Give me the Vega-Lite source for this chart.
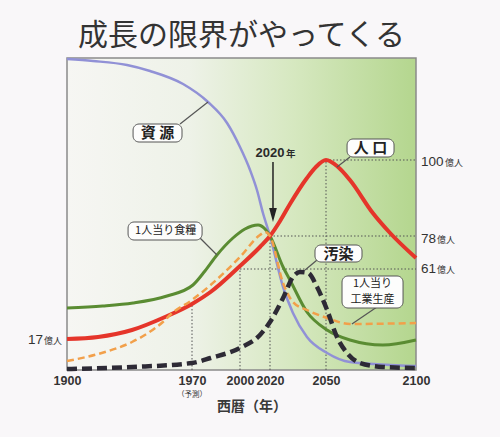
{
  "$schema": "https://vega.github.io/schema/vega-lite/v6.json",
  "width": 349,
  "height": 312,
  "autosize": {"type": "none"},
  "padding": {"left": 67, "top": 58, "right": 84, "bottom": 67},
  "background": "#f9f7f9",
  "config": {
    "view": {"stroke": null},
    "text": {"font": "Noto Sans CJK JP"}
  },
  "data": {
    "values": [
      {"s": "res", "year": 1900, "v": 311},
      {"s": "res", "year": 1914.6, "v": 309},
      {"s": "res", "year": 1933.6, "v": 305},
      {"s": "res", "year": 1946.5, "v": 299},
      {"s": "res", "year": 1965, "v": 286},
      {"s": "res", "year": 1980, "v": 268},
      {"s": "res", "year": 1991.9, "v": 247},
      {"s": "res", "year": 2000, "v": 223},
      {"s": "res", "year": 2006.7, "v": 200},
      {"s": "res", "year": 2011.3, "v": 180},
      {"s": "res", "year": 2015.3, "v": 157},
      {"s": "res", "year": 2020, "v": 134},
      {"s": "res", "year": 2027, "v": 83},
      {"s": "res", "year": 2032.3, "v": 57},
      {"s": "res", "year": 2039.8, "v": 33},
      {"s": "res", "year": 2050.6, "v": 17},
      {"s": "res", "year": 2063.3, "v": 8},
      {"s": "res", "year": 2100, "v": 4},

      {"s": "food", "year": 1900, "v": 62},
      {"s": "food", "year": 1920, "v": 64},
      {"s": "food", "year": 1937, "v": 67},
      {"s": "food", "year": 1956, "v": 74},
      {"s": "food", "year": 1970.6, "v": 85},
      {"s": "food", "year": 1978.1, "v": 99},
      {"s": "food", "year": 1985.6, "v": 115},
      {"s": "food", "year": 1995.6, "v": 132},
      {"s": "food", "year": 2003.3, "v": 141},
      {"s": "food", "year": 2012, "v": 145},
      {"s": "food", "year": 2016.7, "v": 141},
      {"s": "food", "year": 2020, "v": 134},
      {"s": "food", "year": 2027, "v": 103},
      {"s": "food", "year": 2030.7, "v": 90},
      {"s": "food", "year": 2039.8, "v": 58},
      {"s": "food", "year": 2050.6, "v": 40},
      {"s": "food", "year": 2063.3, "v": 30},
      {"s": "food", "year": 2081.6, "v": 25},
      {"s": "food", "year": 2100, "v": 30},

      {"s": "pop", "year": 1900, "v": 31},
      {"s": "pop", "year": 1917.4, "v": 33},
      {"s": "pop", "year": 1936.4, "v": 40},
      {"s": "pop", "year": 1954.9, "v": 53},
      {"s": "pop", "year": 1970, "v": 66},
      {"s": "pop", "year": 1981.6, "v": 78},
      {"s": "pop", "year": 2000, "v": 104},
      {"s": "pop", "year": 2013.3, "v": 123},
      {"s": "pop", "year": 2020, "v": 134},
      {"s": "pop", "year": 2025.4, "v": 149},
      {"s": "pop", "year": 2030.7, "v": 166},
      {"s": "pop", "year": 2039.8, "v": 192},
      {"s": "pop", "year": 2044.6, "v": 203},
      {"s": "pop", "year": 2050, "v": 210},
      {"s": "pop", "year": 2056.7, "v": 203},
      {"s": "pop", "year": 2063.3, "v": 190},
      {"s": "pop", "year": 2076, "v": 157},
      {"s": "pop", "year": 2085.6, "v": 137},
      {"s": "pop", "year": 2100, "v": 112},

      {"s": "ind", "year": 1900, "v": 9},
      {"s": "ind", "year": 1917.4, "v": 16},
      {"s": "ind", "year": 1936.4, "v": 28},
      {"s": "ind", "year": 1945.4, "v": 37},
      {"s": "ind", "year": 1954.9, "v": 50},
      {"s": "ind", "year": 1957.7, "v": 55},
      {"s": "ind", "year": 1970, "v": 70},
      {"s": "ind", "year": 1981.6, "v": 85},
      {"s": "ind", "year": 2000, "v": 113},
      {"s": "ind", "year": 2013.3, "v": 135},
      {"s": "ind", "year": 2016.7, "v": 138},
      {"s": "ind", "year": 2020, "v": 134},
      {"s": "ind", "year": 2027, "v": 87},
      {"s": "ind", "year": 2032.3, "v": 68},
      {"s": "ind", "year": 2039.8, "v": 60},
      {"s": "ind", "year": 2050.6, "v": 52},
      {"s": "ind", "year": 2063.3, "v": 46},
      {"s": "ind", "year": 2100, "v": 47},

      {"s": "pol", "year": 1900, "v": 1},
      {"s": "pol", "year": 1936.4, "v": 3},
      {"s": "pol", "year": 1970, "v": 7},
      {"s": "pol", "year": 1981.6, "v": 12},
      {"s": "pol", "year": 2000, "v": 22},
      {"s": "pol", "year": 2013.3, "v": 35},
      {"s": "pol", "year": 2020, "v": 48},
      {"s": "pol", "year": 2027, "v": 72},
      {"s": "pol", "year": 2032.3, "v": 93},
      {"s": "pol", "year": 2036, "v": 98},
      {"s": "pol", "year": 2040.4, "v": 97},
      {"s": "pol", "year": 2045.2, "v": 83},
      {"s": "pol", "year": 2050.6, "v": 60},
      {"s": "pol", "year": 2056.1, "v": 33},
      {"s": "pol", "year": 2061.7, "v": 17},
      {"s": "pol", "year": 2068.9, "v": 7},
      {"s": "pol", "year": 2081.6, "v": 3},
      {"s": "pol", "year": 2100, "v": 2}
    ]
  },
  "encoding": {
    "x": {
      "field": "year",
      "type": "quantitative",
      "scale": {
        "domain": [1900, 1970, 2000, 2020, 2050, 2100],
        "range": [0, 125, 173, 203, 259, 349],
        "nice": false,
        "zero": false
      },
      "axis": {
        "values": [1900, 1970, 2000, 2020, 2050, 2100],
        "format": "d",
        "title": null,
        "ticks": false,
        "domain": false,
        "grid": false,
        "labelOverlap": false,
        "labelFlush": false,
        "labelFont": "Liberation Sans",
        "labelFontWeight": "bold",
        "labelFontSize": 12.5,
        "labelColor": "#333333",
        "labelPadding": 4
      }
    },
    "y": {
      "field": "v",
      "type": "quantitative",
      "scale": {"domain": [0, 312], "nice": false, "zero": false},
      "axis": null
    }
  },
  "layer": [
    {
      "data": {"values": [{"year": 1900, "year2": 2100, "v": 0, "v2": 312}]},
      "mark": {
        "type": "rect",
        "fill": {
          "gradient": "linear",
          "x1": 0, "y1": 0, "x2": 1, "y2": 0,
          "stops": [
            {"offset": 0, "color": "#f6f6f3"},
            {"offset": 0.35, "color": "#eef2e8"},
            {"offset": 0.65, "color": "#d6e8c0"},
            {"offset": 1, "color": "#b4d68e"}
          ]
        },
        "stroke": "#8a8a8a",
        "strokeWidth": 1.5
      },
      "encoding": {
        "x2": {"field": "year2"},
        "y2": {"field": "v2"}
      }
    },
    {
      "data": {
        "values": [
          {"year": 1970, "year2": 1970, "v": 0, "v2": 66},
          {"year": 2000, "year2": 2000, "v": 0, "v2": 101},
          {"year": 2000, "year2": 2100, "v": 101, "v2": 101},
          {"year": 2020, "year2": 2020, "v": 0, "v2": 134},
          {"year": 2020, "year2": 2100, "v": 134, "v2": 134},
          {"year": 2050, "year2": 2050, "v": 0, "v2": 210},
          {"year": 2050, "year2": 2100, "v": 210, "v2": 210}
        ]
      },
      "mark": {"type": "rule", "color": "#555555", "strokeWidth": 1, "strokeDash": [1.5, 2]},
      "encoding": {
        "x2": {"field": "year2"},
        "y2": {"field": "v2"}
      }
    },
    {
      "transform": [{"filter": "datum.s === 'res'"}],
      "mark": {"type": "line", "interpolate": "monotone", "color": "#9191d6", "strokeWidth": 2.5}
    },
    {
      "transform": [{"filter": "datum.s === 'food'"}],
      "mark": {"type": "line", "interpolate": "monotone", "color": "#5a8c32", "strokeWidth": 3}
    },
    {
      "transform": [{"filter": "datum.s === 'pop'"}],
      "mark": {"type": "line", "interpolate": "monotone", "color": "#e5352a", "strokeWidth": 4}
    },
    {
      "transform": [{"filter": "datum.s === 'ind'"}],
      "mark": {"type": "line", "interpolate": "monotone", "color": "#f2a04a", "strokeWidth": 2.5, "strokeDash": [7, 4]}
    },
    {
      "transform": [{"filter": "datum.s === 'pol'"}],
      "mark": {"type": "line", "interpolate": "monotone", "color": "#2d2a35", "strokeWidth": 4.5, "strokeDash": [10, 5]}
    },
    {
      "data": {
        "values": [
          {"year": 1963.3, "v": 246, "year2": 1980, "v2": 268},
          {"year": 1975, "v": 132, "year2": 1985.6, "v2": 115},
          {"year": 2063.3, "v": 213, "year2": 2056.1, "v2": 203},
          {"year": 2045.2, "v": 110, "year2": 2038.8, "v2": 100},
          {"year": 2078.3, "v": 63, "year2": 2064.4, "v2": 46}
        ]
      },
      "mark": {"type": "rule", "color": "#555555", "strokeWidth": 1.2},
      "encoding": {
        "x2": {"field": "year2"},
        "y2": {"field": "v2"}
      }
    },
    {
      "data": {
        "values": [
          {"year": 1937, "year2": 1964.4, "v": 228, "v2": 246},
          {"year": 1934.2, "year2": 1976.3, "v": 130, "v2": 148},
          {"year": 2061.7, "year2": 2087.8, "v": 213, "v2": 231},
          {"year": 2044.1, "year2": 2070, "v": 108, "v2": 125},
          {"year": 2058.9, "year2": 2092.8, "v": 62, "v2": 94}
        ]
      },
      "mark": {"type": "rect", "fill": "#fdfdfc", "stroke": "#555555", "strokeWidth": 1, "cornerRadius": 6},
      "encoding": {
        "x2": {"field": "year2"},
        "y2": {"field": "v2"}
      }
    },
    {
      "data": {
        "values": [
          {"year": 1950.7, "v": 237, "t": "資 源"},
          {"year": 2074.7, "v": 222, "t": "人 口"},
          {"year": 2057, "v": 116.5, "t": "汚染"}
        ]
      },
      "mark": {"type": "text", "fontSize": 15, "fontWeight": "bold", "color": "#222222", "baseline": "middle"},
      "encoding": {"text": {"field": "t"}}
    },
    {
      "data": {
        "values": [
          {"year": 1955.2, "v": 139, "t": "1人当り食糧"},
          {"year": 2075.8, "v": 86, "t": "1人当り"},
          {"year": 2075.8, "v": 70, "t": "工業生産"}
        ]
      },
      "mark": {"type": "text", "fontSize": 11, "color": "#222222", "baseline": "middle"},
      "encoding": {"text": {"field": "t"}}
    },
    {
      "data": {"values": [{"year": 2001, "v": 325}]},
      "mark": {"type": "text", "fontSize": 30, "color": "#333333", "baseline": "alphabetic", "text": "成長の限界がやってくる"}
    },
    {
      "data": {"values": [{"year": 2020, "v": 217}]},
      "mark": {"type": "text", "font": "Liberation Sans", "fontSize": 13, "fontWeight": "bold", "color": "#2a2a2a", "baseline": "middle", "text": "2020"}
    },
    {
      "data": {"values": [{"year": 2020, "v": 217}]},
      "mark": {"type": "text", "fontSize": 9.5, "fontWeight": "bold", "color": "#2a2a2a", "baseline": "middle", "align": "left", "dx": 16, "dy": 1, "text": "年"}
    },
    {
      "data": {"values": [{"year": 2021.6, "v": 208, "v2": 160}]},
      "mark": {"type": "rule", "color": "#222222", "strokeWidth": 1.5},
      "encoding": {"y2": {"field": "v2"}}
    },
    {
      "data": {"values": [{"year": 2021.6, "v": 155}]},
      "mark": {"type": "point", "shape": "M0,1L-0.55,-1L0.55,-1Z", "filled": true, "color": "#222222", "opacity": 1, "size": 196}
    },
    {
      "data": {
        "values": [
          {"year": 2100, "v": 204, "t": "100"},
          {"year": 2100, "v": 127, "t": "78"},
          {"year": 2100, "v": 97, "t": "61"}
        ]
      },
      "mark": {"type": "text", "font": "Liberation Sans", "fontSize": 13.5, "color": "#333333", "align": "left", "baseline": "alphabetic", "dx": 5},
      "encoding": {"text": {"field": "t"}}
    },
    {
      "data": {"values": [{"year": 2100, "v": 204}]},
      "mark": {"type": "text", "fontSize": 9, "color": "#333333", "align": "left", "baseline": "alphabetic", "dx": 29, "text": "億人"}
    },
    {
      "data": {"values": [{"year": 2100, "v": 127}, {"year": 2100, "v": 97}]},
      "mark": {"type": "text", "fontSize": 9, "color": "#333333", "align": "left", "baseline": "alphabetic", "dx": 21, "text": "億人"}
    },
    {
      "data": {"values": [{"year": 1900, "v": 26}]},
      "mark": {"type": "text", "font": "Liberation Sans", "fontSize": 13.5, "color": "#333333", "align": "right", "baseline": "alphabetic", "dx": -24, "text": "17"}
    },
    {
      "data": {"values": [{"year": 1900, "v": 26}]},
      "mark": {"type": "text", "fontSize": 9, "color": "#333333", "align": "right", "baseline": "alphabetic", "dx": -5, "text": "億人"}
    },
    {
      "data": {"values": [{"year": 1970, "v": -25}]},
      "mark": {"type": "text", "fontSize": 7.5, "color": "#333333", "baseline": "middle", "text": "（予測）"}
    },
    {
      "data": {"values": [{"year": 2008, "v": -37}]},
      "mark": {"type": "text", "fontSize": 14, "fontWeight": "bold", "color": "#3a3a3a", "baseline": "middle", "text": "西暦（年）"}
    }
  ]
}
